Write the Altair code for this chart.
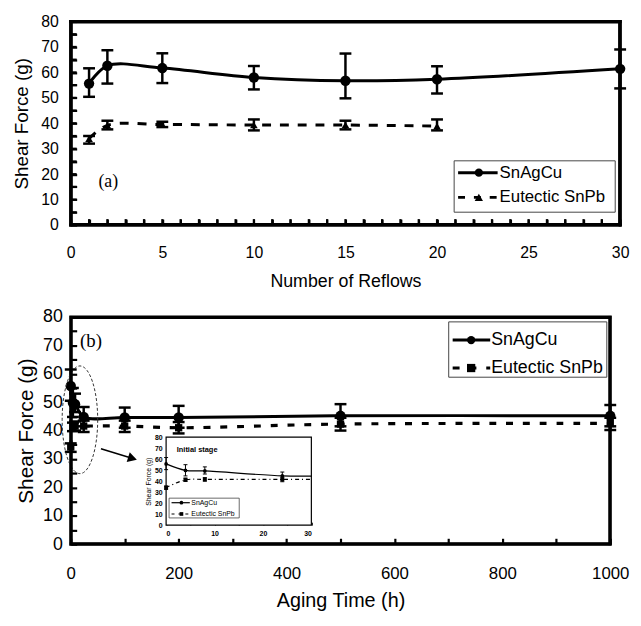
import altair as alt
import pandas as pd

SANS = "Liberation Sans"
SERIF = "Liberation Serif"

# ---------------- data: panel (a) ----------------
reflows = [1, 2, 5, 10, 15, 20, 30]
a_sac = [55.6, 62.6, 61.7, 58.0, 56.7, 57.3, 61.4]
a_sac_lo = [50.4, 55.6, 55.8, 53.3, 49.8, 51.7, 53.7]
a_sac_hi = [61.6, 68.7, 67.5, 62.5, 67.4, 62.4, 69.0]

reflows_pb = [1, 2, 5, 10, 15, 20]
a_pb = [33.9, 39.2, 39.5, 39.3, 39.3, 38.9]
a_pb_lo = [32.0, 37.6, 38.5, 37.2, 37.6, 37.2]
a_pb_hi = [35.0, 41.0, 40.6, 41.5, 41.0, 41.5]

# ---------------- data: panel (b) ----------------
aging = [0, 4, 8, 24, 100, 200, 500, 1000]
b_sac = [55.7, 49.8, 49.3, 44.8, 44.6, 44.6, 45.2, 45.2]
b_sac_lo = [50.5, 44.8, 46.5, 41.5, 41.0, 41.0, 41.5, 41.5]
b_sac_hi = [61.5, 55.0, 53.0, 48.3, 48.1, 48.7, 49.3, 49.0]
b_pb = [34.2, 41.2, 41.6, 41.6, 41.6, 41.0, 42.3, 42.5]
b_pb_lo = [32.5, 39.8, 40.0, 39.5, 39.5, 39.0, 40.0, 40.2]
b_pb_hi = [35.5, 42.8, 43.2, 43.5, 43.5, 43.0, 44.5, 44.5]

series_names = ["SnAgCu", "Eutectic SnPb"]
a_xticks = list(range(0, 31))          # labelled every 5
b_xticks = list(range(0, 1001, 100))   # labelled every 200
yticks = list(range(0, 81, 5))         # labelled every 10
inset_xticks = list(range(0, 31, 5))   # labelled every 10
inset_yticks = list(range(0, 81, 10))


def frame(x, y, lo, hi):
    return pd.DataFrame({"x": x, "y": y, "lo": lo, "hi": hi})


def qx(field, scale, axis):
    return alt.X(field, type="quantitative", scale=scale, axis=axis)


def qy(field, scale, axis):
    return alt.Y(field, type="quantitative", scale=scale, axis=axis)


def dx(v, scale, axis):
    return alt.XDatum(v, type="quantitative", scale=scale, axis=axis)


def dy(v, scale, axis):
    return alt.YDatum(v, type="quantitative", scale=scale, axis=axis)


def series(data, sc, shape, msize, dash, lw, capsize, ebw, filt=None):
    xs, ys, ax, ay = sc

    def base():
        c = alt.Chart(data)
        if filt is not None:
            c = c.transform_filter(filt)
        return c
    line_kw = dict(color="black", strokeWidth=lw, interpolate="catmull-rom")
    if dash:
        line_kw["strokeDash"] = dash
    line = alt.Chart(data).mark_line(**line_kw).encode(x=qx("x", xs, ax), y=qy("y", ys, ay))
    rule = base().mark_rule(color="black", strokeWidth=ebw).encode(
        x=qx("x", xs, ax), y=qy("lo", ys, ay), y2="hi")
    cap_lo = base().mark_point(shape="stroke", size=capsize, strokeWidth=ebw,
                               color="black", opacity=1).encode(
        x=qx("x", xs, ax), y=qy("lo", ys, ay))
    cap_hi = base().mark_point(shape="stroke", size=capsize, strokeWidth=ebw,
                               color="black", opacity=1).encode(
        x=qx("x", xs, ax), y=qy("hi", ys, ay))
    pts = base().mark_point(shape=shape, size=msize, filled=True, color="black",
                            opacity=1).encode(x=qx("x", xs, ax), y=qy("y", ys, ay))
    return [line, rule, cap_lo, cap_hi, pts]


def legend(box, entries, fs, lw, msz, lsw):
    one = pd.DataFrame({"d": [0]})
    x0, x1, y0, y1 = box
    layers = [alt.Chart(one).mark_rect(fill="white", stroke="#444", strokeWidth=lsw).encode(
        x=alt.value(x0), x2=alt.value(x1), y=alt.value(y0), y2=alt.value(y1))]
    for name, (sx0, sx1, mx, tx, ty, shape, dash) in zip(series_names, entries):
        kw = dict(color="black", strokeWidth=lw)
        if dash:
            kw["strokeDash"] = dash
        layers.append(alt.Chart(one).mark_rule(**kw).encode(
            x=alt.value(sx0), x2=alt.value(sx1), y=alt.value(ty)))
        layers.append(alt.Chart(one).mark_point(shape=shape, size=msz, filled=True,
                                                color="black", opacity=1).encode(
            x=alt.value(mx), y=alt.value(ty)))
        layers.append(alt.Chart(pd.DataFrame({"s": [name]})).mark_text(
            font=SANS, fontSize=fs, align="left", baseline="middle", color="black").encode(
            x=alt.value(tx), y=alt.value(ty), text="s:N"))
    return layers


def plot_frame(w, h):
    one = pd.DataFrame({"d": [0]})
    kw = dict(color="black", strokeWidth=3, strokeCap="square")
    return [
        alt.Chart(one).mark_rule(**kw).encode(x=alt.value(0.5), x2=alt.value(w - 0.5), y=alt.value(0.5)),
        alt.Chart(one).mark_rule(**kw).encode(x=alt.value(0.5), x2=alt.value(w - 0.5), y=alt.value(h - 0.5)),
        alt.Chart(one).mark_rule(**kw).encode(y=alt.value(0.5), y2=alt.value(h - 0.5), x=alt.value(0.5)),
        alt.Chart(one).mark_rule(**kw).encode(y=alt.value(0.5), y2=alt.value(h - 0.5), x=alt.value(w - 0.5)),
    ]


TK = 6  # inside tick length


def axis_x(title, values, every, lfs, tfs, lpad, ty):
    return alt.Axis(title=title, values=values, format="d",
                    labelExpr=f"datum.value % {every} === 0 ? datum.label : ''",
                    ticks=True, tickSize=TK, tickWidth=2.2, tickColor="black", offset=-TK,
                    domain=False, grid=False, labelOverlap=False,
                    labelFont=SANS, labelFontSize=lfs, labelColor="black", labelPadding=lpad,
                    labelFlush=False, titleFont=SANS, titleFontSize=tfs, titleFontWeight="normal",
                    titleColor="black", titleY=ty + TK, titleBaseline="middle")


def axis_y(title, lfs, tfs, lpad, tx):
    return alt.Axis(title=title, values=yticks, format="d",
                    labelExpr="datum.value % 10 === 0 ? datum.label : ''",
                    ticks=True, tickSize=TK, tickWidth=2.2, tickColor="black", offset=-TK,
                    domain=False, grid=False, labelOverlap=False,
                    labelFont=SANS, labelFontSize=lfs, labelColor="black", labelPadding=lpad,
                    titleFont=SANS, titleFontSize=tfs, titleFontWeight="normal",
                    titleColor="black", titleX=tx - TK, titleBaseline="middle")


# ---------------- panel (a) ----------------
WA, HA = 556, 206
SC_A = (alt.Scale(domain=[0, 30], nice=False, zero=False),
        alt.Scale(domain=[0, 80], nice=False),
        axis_x("Number of Reflows", a_xticks, 5, 16, 18, 19.5, 57),
        axis_y("Shear Force (g)", 16, 19, 12.5, -49.5))
da_sac = frame(reflows, a_sac, a_sac_lo, a_sac_hi)
da_pb = frame(reflows_pb, a_pb, a_pb_lo, a_pb_hi)

a_layers = []
a_layers += series(da_sac, SC_A, "circle", 110, None, 3, 144, 2.5)
a_layers += series(da_pb, SC_A, "triangle-up", 60, [9, 9], 3, 144, 2.5)
a_layers += legend((388, 551, 141, 193),
                   [(392, 432, 413, 434, 153, "circle", None),
                    (392, 432, 413, 434, 178, "triangle-up", [7, 9])],
                   17, 3, 70, 1)
a_layers += plot_frame(WA, HA)
main_a = alt.layer(*a_layers)

# annotation group with its own (identical) scales: label, frame and inside ticks
xs_an = alt.Scale(domain=[0, 30], nice=False, zero=False)
ys_an = alt.Scale(domain=[0, 80], nice=False)
frame_a = pd.DataFrame({"x0": [0, 0, 0, 30], "x1": [30, 30, 0, 30],
                        "y0": [0, 80, 0, 0], "y1": [0, 80, 80, 80]})
an_layers = [
    alt.Chart(frame_a).mark_rule(color="black", strokeWidth=3, strokeCap="square").encode(
        x=alt.X("x0:Q", scale=xs_an, axis=None), x2="x1",
        y=alt.Y("y0:Q", scale=ys_an, axis=None), y2="y1"),
    alt.Chart(pd.DataFrame({"t": a_xticks[1:-1], "b": [0] * (len(a_xticks) - 2)})).mark_point(
        shape="stroke", size=36, strokeWidth=2.2, color="black", angle=90, yOffset=-3,
        opacity=1).encode(x=alt.X("t:Q", scale=xs_an, axis=None),
                          y=alt.Y("b:Q", scale=ys_an, axis=None)),
    alt.Chart(pd.DataFrame({"t": yticks[1:-1], "b": [0] * (len(yticks) - 2)})).mark_point(
        shape="stroke", size=36, strokeWidth=2.2, color="black", xOffset=3,
        opacity=1).encode(y=alt.Y("t:Q", scale=ys_an, axis=None),
                          x=alt.X("b:Q", scale=xs_an, axis=None)),
    alt.Chart(pd.DataFrame({"s": ["(a)"]})).mark_text(
        font=SERIF, fontSize=18, color="black", align="center", baseline="middle").encode(
        x=alt.XDatum(2.05, type="quantitative", scale=xs_an, axis=None),
        y=alt.YDatum(16.7, type="quantitative", scale=ys_an, axis=None), text="s:N"),
]
annot_a = alt.layer(*an_layers)

panel_a = alt.layer(main_a, annot_a).resolve_scale(x="independent", y="independent").properties(
    width=WA, height=HA)

# ---------------- panel (b) ----------------
WB, HB = 546, 230
SC_B = (alt.Scale(domain=[0, 1000], nice=False, zero=False),
        alt.Scale(domain=[0, 80], nice=False),
        axis_x("Aging Time (h)", b_xticks, 200, 17, 20, 22, 57),
        axis_y("Shear Force (g)", 18, 21, 8.5, -45))
xs_b, ys_b, ax_b, ay_b = SC_B
db_sac = frame(aging, b_sac, b_sac_lo, b_sac_hi)
db_pb = frame(aging, b_pb, b_pb_lo, b_pb_hi)

b_layers = []
b_layers += series(db_sac, SC_B, "circle", 110, None, 3, 144, 2.5)
b_layers += series(db_pb, SC_B, "square", 55, [7, 10], 3.2, 144, 2.5)
b_layers.append(alt.Chart(pd.DataFrame({"s": ["(b)"]})).mark_text(
    font=SERIF, fontSize=19, color="black", align="center", baseline="middle").encode(
    x=dx(37.5, xs_b, ax_b), y=dy(71.4, ys_b, ay_b), text="s:N"))
# dashed ellipse around the initial-stage cluster
b_layers.append(alt.Chart(pd.DataFrame({"d": [0]})).mark_point(
    shape="M 0.33 0 A 0.33 1 0 1 1 -0.33 0 A 0.33 1 0 1 1 0.33 0 Z",
    size=11881, filled=False, color="#333", strokeWidth=1, strokeDash=[3, 2], opacity=1).encode(
    x=dx(17, xs_b, ax_b), y=dy(43.8, ys_b, ay_b)))
# arrow to the inset
b_layers.append(alt.Chart(pd.DataFrame({"d": [0]})).mark_rule(color="black", strokeWidth=1.5).encode(
    x=dx(56, xs_b, ax_b), x2=alt.datum(115.0), y=dy(33.6, ys_b, ay_b), y2=alt.datum(30.2)))
b_layers.append(alt.Chart(pd.DataFrame({"d": [0]})).mark_point(
    shape="triangle-right", size=110, filled=True, color="black", angle=17, opacity=1).encode(
    x=dx(114.5, xs_b, ax_b), y=dy(30.2, ys_b, ay_b)))
b_layers += legend((382.5, 542.5, 5, 61),
                   [(386.5, 424.5, 405.2, 425.5, 23.4, "circle", None),
                    (386.5, 424.5, 405.2, 425.5, 51.7, "square", [7, 10])],
                   18, 3, 70, 1)
b_layers += plot_frame(WB, HB)
main_b = alt.layer(*b_layers)

# ---------------- inset ----------------
xs_i = alt.Scale(domain=[0, 30], range=[96.5, 243.5], clamp=True, nice=False, zero=False)
ys_i = alt.Scale(domain=[0, 80], range=[210.7, 121.7], nice=False)
ax_i = alt.Axis(orient="bottom", offset=-(HB - 210.7) - 3, values=inset_xticks,
                labelExpr="datum.value % 10 === 0 ? datum.label : ''",
                ticks=True, tickSize=3, tickWidth=1, tickColor="black",
                domain=False, grid=False, labelFont=SANS, labelFontSize=7,
                labelOverlap=False, labelFontWeight="bold", labelColor="black",
                labelPadding=4, title=None)
ay_i = alt.Axis(orient="left", offset=-96.5, values=inset_yticks, ticks=False, tickSize=0,
                domain=False, grid=False, labelFont=SANS, labelFontSize=7,
                labelOverlap=False, labelFontWeight="bold", labelColor="black",
                labelPadding=4, title="Shear Force (g)", titleFont=SANS, titleFontSize=7,
                titleFontWeight="normal", titleColor="black", titlePadding=3)
SC_I = (xs_i, ys_i, ax_i, ay_i)
di_sac = db_sac[db_sac["x"] <= 100]
di_pb = db_pb[db_pb["x"] <= 100]
in30 = alt.datum.x <= 30
inset_box = pd.DataFrame({"x0": [0], "x1": [30], "y0": [0], "y1": [80]})
i_layers = [alt.Chart(inset_box).mark_rect(fill="white", stroke="black", strokeWidth=1.2).encode(
    x=qx("x0", xs_i, ax_i), x2="x1", y=qy("y0", ys_i, ay_i), y2="y1")]
i_layers += series(di_sac, SC_I, "circle", 14, None, 1.2, 16, 1, filt=in30)
i_layers += series(di_pb, SC_I, "square", 16, [4, 3, 1, 3], 1.2, 16, 1, filt=in30)
i_layers.append(alt.Chart(pd.DataFrame({"s": ["Initial stage"]})).mark_text(
    font=SANS, fontSize=7.5, fontWeight="bold", color="black", align="left", baseline="middle").encode(
    x=dx(2.2, xs_i, ax_i), y=dy(68.6, ys_i, ay_i), text="s:N"))
i_layers += legend((99.5, 170.5, 183.4, 203.4),
                   [(102, 120.5, 112, 122, 188, "circle", None),
                    (102, 120.5, 112, 122, 199.4, "square", [3, 4])],
                   7, 1.2, 14, 0.8)
inset = alt.layer(*i_layers)

panel_b = alt.layer(main_b, inset).resolve_scale(x="independent", y="independent").properties(
    width=WB, height=HB)

chart = alt.vconcat(panel_a, panel_b, spacing=14).properties(
    padding={"left": 2.5, "top": 0, "right": 0, "bottom": 0}
).configure_view(stroke="black", strokeWidth=3)

chart.save("out.html", embed_options={"renderer": "svg", "actions": False})
